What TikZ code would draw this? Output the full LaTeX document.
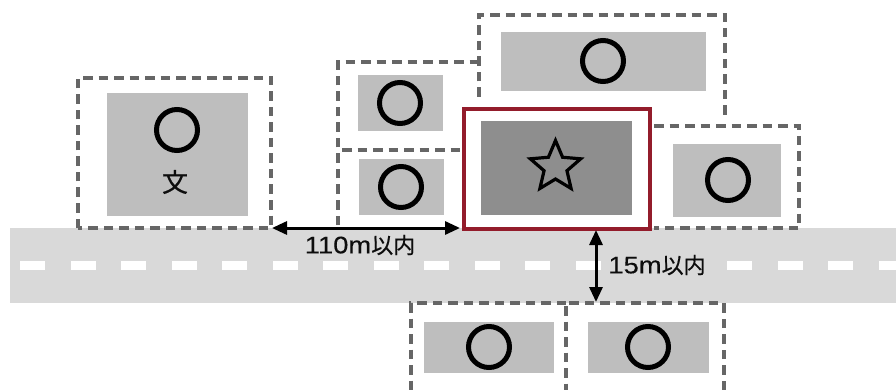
\documentclass[tikz,border=0pt]{standalone}
\usepackage{fontspec}
\usetikzlibrary{arrows.meta,shapes.geometric}
\newfontfamily\cjkfont[FakeBold=0.5]{Noto Sans CJK JP}
\newfontfamily\latfont[FakeStretch=1.14,FakeBold=0.25]{Liberation Sans}
\setmainfont{Liberation Sans}
\definecolor{roadgrey}{HTML}{D9D9D9}
\definecolor{bldgrey}{HTML}{BEBEBE}
\definecolor{maingrey}{HTML}{8E8E8E}
\definecolor{lotgrey}{HTML}{666666}
\definecolor{redframe}{HTML}{931C2B}
\tikzset{
  bld/.style={fill=bldgrey,draw=none,inner sep=0pt,outer sep=0pt},
  mainbld/.style={fill=maingrey,draw=none,inner sep=0pt,outer sep=0pt},
  ring/.style={circle,draw=black,line width=5pt,minimum size=41pt,inner sep=0pt},
  lot/.style={draw=lotgrey,line width=3.2pt,dash pattern=on 9.5pt off 6pt},
  redbox/.style={draw=redframe,fill=white,line width=4.2pt,inner sep=0pt,outer sep=0pt},
  dim/.style={black,line width=3pt,{Triangle[length=15pt,width=13pt]}-{Triangle[length=15pt,width=13pt]}},
  lab/.style={inner sep=0pt,text=black!95}
}
\newcommand{\lbl}[2]{{\latfont\fontsize{24}{26}\selectfont #1}{\cjkfont\fontsize{22}{26}\selectfont #2}}
\begin{document}
\begin{tikzpicture}[x=1pt,y=-1pt]
\useasboundingbox (0,0) rectangle (896,390);
% road
\fill[roadgrey] (10,228) rectangle (896,303);
\foreach \x in {20,70.5,121,171.5,222,272.5,323,373.5,424,474.5,525,575.5,727,777.5,828,878.5}
  \fill[white] (\x,260.5) rectangle ++(25,9.5);
% lots
\draw[lot] (78,228) -- (78,78) -- (271,78) -- (271,228) -- cycle;
\draw[lot] (338,225) -- (338,62) -- (478,62);
\draw[lot] (342,150) -- (460,150);
\draw[lot] (479,97) -- (479,15) -- (725,15) -- (725,116);
\draw[lot] (654,126) -- (799,126) -- (799,228) -- (654,228);
\draw[lot] (566,303) -- (411,303) -- (411,390);
\draw[lot] (724,390) -- (724,303) -- (566,303) -- (566,390);
% buildings
\node[bld,minimum width=141pt,minimum height=123pt] (school) at (177.5,154.5) {};
\node[ring] (c1) at (177,130) {};
\node[lab] (bun) at (175,182) {\cjkfont\fontsize{26}{27}\selectfont 文};
\node[bld,minimum width=85pt,minimum height=56pt] (b1) at (400.5,103) {};
\node[ring] (c2) at (400,103) {};
\node[bld,minimum width=85pt,minimum height=56pt] (b2) at (401.5,187) {};
\node[ring] (c3) at (401,187) {};
\node[bld,minimum width=205pt,minimum height=59pt] (b3) at (603.5,61.5) {};
\node[ring] (c4) at (603,61) {};
\node[bld,minimum width=108pt,minimum height=73pt] (b4) at (727,180.5) {};
\node[ring] (c5) at (728,180) {};
\node[bld,minimum width=130pt,minimum height=51pt] (b5) at (489,347) {};
\node[ring] (c6) at (489,347) {};
\node[bld,minimum width=121pt,minimum height=51pt] (b6) at (648.5,347) {};
\node[ring] (c7) at (648,347) {};
% main plot
\node[redbox,minimum width=186pt,minimum height=120pt] (main) at (557,169) {};
\node[mainbld,minimum width=151pt,minimum height=94pt] (mainb) at (556.5,168) {};
\node[star,star points=5,star point ratio=2.2,draw=black,line width=3.2pt,minimum size=53pt,inner sep=0pt] (st) at (555.5,167) {};
% dimension arrows
\coordinate (hstart) at (272,228);
\coordinate (hend) at (460,228);
\coordinate (vstart) at (596,230);
\coordinate (vend) at (596,302);
\draw[dim] (hstart) -- (hend);
\draw[dim] (vstart) -- (vend);
\node[lab] (l1) at (360,245) {\lbl{110m}{以内}};
\node[lab] (l2) at (657,265) {\lbl{15m}{以内}};
\end{tikzpicture}
\end{document}
